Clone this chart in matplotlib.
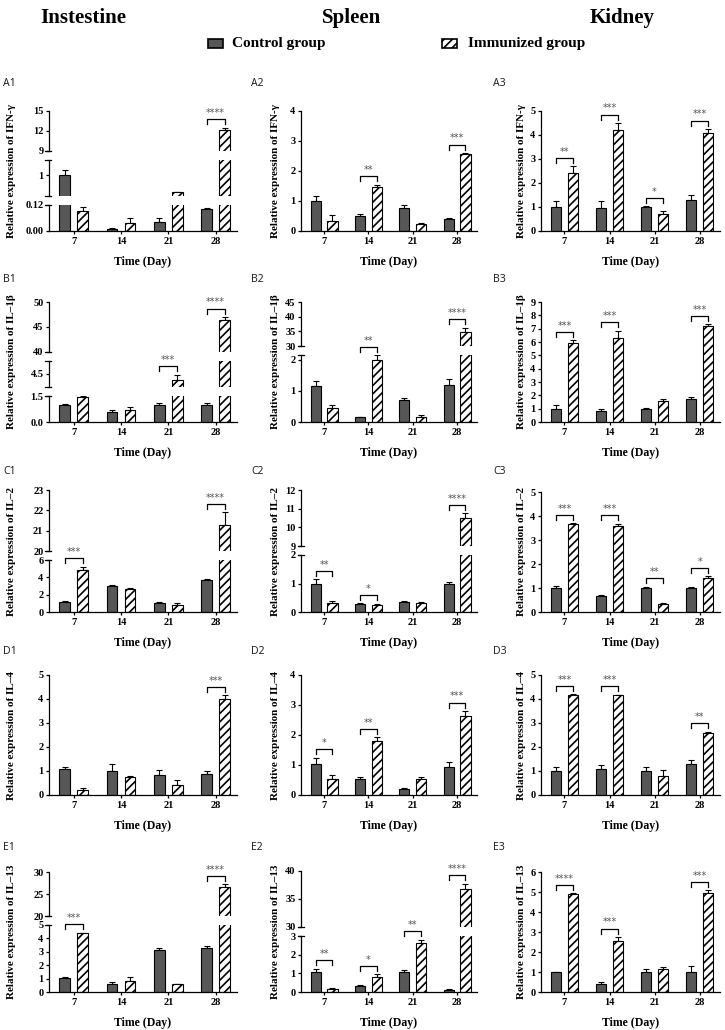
import numpy as np
import matplotlib
matplotlib.use('Agg')
import matplotlib.pyplot as plt
from matplotlib.patches import Rectangle
from matplotlib.transforms import blended_transform_factory

days = ['7', '14', '21', '28']
organs = ['Instestine', 'Spleen', 'Kidney']
genes = ['IFN-γ', 'IL–1β', 'IL–2', 'IL–4', 'IL–13']
row_letters = ['A', 'B', 'C', 'D', 'E']

# ---- values (mean and upper SD) ----
a1_ctrl = [1.00, 0.010, 0.042, 0.100]
a1_ctrl_sd = [0.23, 0.003, 0.020, 0.008]
a1_imm = [0.092, 0.037, 0.34, 12.2]
a1_imm_sd = [0.018, 0.021, 0.02, 0.3]
a1_sig = ['', '', '', '****']

a2_ctrl = [1.0, 0.5, 0.77, 0.4]
a2_ctrl_sd = [0.17, 0.07, 0.10, 0.05]
a2_imm = [0.35, 1.47, 0.25, 2.58]
a2_imm_sd = [0.2, 0.08, 0.03, 0.02]
a2_sig = ['', '**', '', '***']

a3_ctrl = [1.0, 0.95, 1.0, 1.28]
a3_ctrl_sd = [0.25, 0.3, 0.03, 0.2]
a3_imm = [2.42, 4.22, 0.7, 4.1]
a3_imm_sd = [0.28, 0.28, 0.12, 0.15]
a3_sig = ['**', '***', '*', '***']

b1_ctrl = [1.0, 0.6, 1.0, 1.0]
b1_ctrl_sd = [0.03, 0.1, 0.12, 0.08]
b1_imm = [1.47, 0.72, 4.02, 46.3]
b1_imm_sd = [0.02, 0.13, 0.42, 0.7]
b1_sig = ['', '', '***', '****']

b2_ctrl = [1.15, 0.15, 0.72, 1.2]
b2_ctrl_sd = [0.17, 0.02, 0.05, 0.17]
b2_imm = [0.45, 2.0, 0.17, 34.8]
b2_imm_sd = [0.08, 0.14, 0.04, 1.5]
b2_sig = ['', '**', '', '****']

b3_ctrl = [1.0, 0.8, 1.0, 1.7]
b3_ctrl_sd = [0.25, 0.15, 0.05, 0.2]
b3_imm = [5.95, 6.3, 1.55, 7.2]
b3_imm_sd = [0.2, 0.55, 0.15, 0.15]
b3_sig = ['***', '***', '', '***']

c1_ctrl = [1.2, 3.0, 1.0, 3.7]
c1_ctrl_sd = [0.05, 0.06, 0.1, 0.1]
c1_imm = [4.85, 2.7, 0.85, 21.3]
c1_imm_sd = [0.35, 0.05, 0.15, 0.6]
c1_sig = ['***', '', '', '****']

c2_ctrl = [1.0, 0.28, 0.35, 1.0]
c2_ctrl_sd = [0.15, 0.02, 0.03, 0.07]
c2_imm = [0.33, 0.25, 0.32, 10.5]
c2_imm_sd = [0.04, 0.02, 0.03, 0.25]
c2_sig = ['**', '*', '', '****']

c3_ctrl = [1.0, 0.65, 1.0, 1.0]
c3_ctrl_sd = [0.07, 0.07, 0.05, 0.05]
c3_imm = [3.65, 3.6, 0.35, 1.4]
c3_imm_sd = [0.05, 0.08, 0.03, 0.08]
c3_sig = ['***', '***', '**', '*']

d1_ctrl = [1.1, 1.0, 0.85, 0.88]
d1_ctrl_sd = [0.08, 0.3, 0.2, 0.1]
d1_imm = [0.2, 0.75, 0.42, 4.0]
d1_imm_sd = [0.1, 0.05, 0.2, 0.15]
d1_sig = ['', '', '', '***']

d2_ctrl = [1.05, 0.55, 0.2, 0.95]
d2_ctrl_sd = [0.2, 0.05, 0.02, 0.15]
d2_imm = [0.52, 1.8, 0.55, 2.65]
d2_imm_sd = [0.15, 0.12, 0.04, 0.15]
d2_sig = ['*', '**', '', '***']

d3_ctrl = [1.0, 1.1, 1.0, 1.3]
d3_ctrl_sd = [0.18, 0.15, 0.15, 0.15]
d3_imm = [4.15, 4.15, 0.8, 2.6]
d3_imm_sd = [0.05, 0.03, 0.25, 0.03]
d3_sig = ['***', '***', '', '**']

e1_ctrl = [1.05, 0.62, 3.1, 3.3]
e1_ctrl_sd = [0.07, 0.13, 0.15, 0.15]
e1_imm = [4.4, 0.85, 0.6, 26.5]
e1_imm_sd = [0.03, 0.25, 0.02, 0.7]
e1_sig = ['***', '', '', '****']

e2_ctrl = [1.08, 0.33, 1.08, 0.13]
e2_ctrl_sd = [0.17, 0.02, 0.12, 0.04]
e2_imm = [0.17, 0.83, 2.65, 36.7]
e2_imm_sd = [0.03, 0.12, 0.15, 1.0]
e2_sig = ['**', '*', '**', '****']

e3_ctrl = [1.0, 0.4, 1.0, 1.0]
e3_ctrl_sd = [0.02, 0.1, 0.15, 0.3]
e3_imm = [4.9, 2.55, 1.15, 4.95]
e3_imm_sd = [0.03, 0.2, 0.1, 0.13]
e3_sig = ['****', '***', '', '***']

# y-axis segments, bottom to top: (low, high, ticks, tick labels, height px)
def plain(top, step=1):
    t = list(range(0, top + 1, step))
    return [(0, top, t, [str(v) for v in t], 120)]

a1_axis = [(0, 0.12, [0, 0.12], ['0.00', '0.12'], 26),
           (0.2, 1.6, [1], ['1'], 36),
           (9, 15, [9, 12, 15], ['9', '12', '15'], 40)]
b1_axis = [(0, 1.5, [0, 1.5], ['0.0', '1.5'], 26),
           (3.5, 5.5, [4.5], ['4.5'], 26),
           (40, 50, [40, 45, 50], ['40', '45', '50'], 50)]
b2_axis = [(0, 2.15, [0, 1, 2], ['0', '1', '2'], 67),
           (30, 45, [30, 35, 40, 45], ['30', '35', '40', '45'], 44)]
c1_axis = [(0, 6, [0, 2, 4, 6], ['0', '2', '4', '6'], 52),
           (20, 23, [20, 21, 22, 23], ['20', '21', '22', '23'], 61)]
c2_axis = [(0, 2, [0, 1, 2], ['0', '1', '2'], 57),
           (9, 12, [9, 10, 11, 12], ['9', '10', '11', '12'], 56)]
e1_axis = [(0, 5, [0, 1, 2, 3, 4, 5], ['0', '1', '2', '3', '4', '5'], 67),
           (20, 30, [20, 25, 30], ['20', '25', '30'], 44)]
e2_axis = [(0, 3, [0, 1, 2, 3], ['0', '1', '2', '3'], 56),
           (30, 40, [30, 35, 40], ['30', '35', '40'], 56)]

panels = [
    [(a1_ctrl, a1_ctrl_sd, a1_imm, a1_imm_sd, a1_sig, a1_axis),
     (a2_ctrl, a2_ctrl_sd, a2_imm, a2_imm_sd, a2_sig, plain(4)),
     (a3_ctrl, a3_ctrl_sd, a3_imm, a3_imm_sd, a3_sig, plain(5))],
    [(b1_ctrl, b1_ctrl_sd, b1_imm, b1_imm_sd, b1_sig, b1_axis),
     (b2_ctrl, b2_ctrl_sd, b2_imm, b2_imm_sd, b2_sig, b2_axis),
     (b3_ctrl, b3_ctrl_sd, b3_imm, b3_imm_sd, b3_sig, plain(9))],
    [(c1_ctrl, c1_ctrl_sd, c1_imm, c1_imm_sd, c1_sig, c1_axis),
     (c2_ctrl, c2_ctrl_sd, c2_imm, c2_imm_sd, c2_sig, c2_axis),
     (c3_ctrl, c3_ctrl_sd, c3_imm, c3_imm_sd, c3_sig, plain(5))],
    [(d1_ctrl, d1_ctrl_sd, d1_imm, d1_imm_sd, d1_sig, plain(5)),
     (d2_ctrl, d2_ctrl_sd, d2_imm, d2_imm_sd, d2_sig, plain(4)),
     (d3_ctrl, d3_ctrl_sd, d3_imm, d3_imm_sd, d3_sig, plain(5))],
    [(e1_ctrl, e1_ctrl_sd, e1_imm, e1_imm_sd, e1_sig, e1_axis),
     (e2_ctrl, e2_ctrl_sd, e2_imm, e2_imm_sd, e2_sig, e2_axis),
     (e3_ctrl, e3_ctrl_sd, e3_imm, e3_imm_sd, e3_sig, plain(6))],
]

# ---- layout (pixels) ----
W, H = 725, 1030
GAP = 9
COL_X = [49, 301, 541]
COL_R = [237, 477, 720]
ROW_BOT = [231, 422, 612, 795, 992]
YLAB_X = [12, 275, 522]
PLAB_X = [3, 251, 493]
PLAB_Y = [84, 280, 472, 651, 847]

SERIF = 'Liberation Serif'
CTRL_COLOR = '#575757'
plt.rcParams['hatch.linewidth'] = 1.2
plt.rcParams['axes.linewidth'] = 0.9

fig = plt.figure(figsize=(W / 100, H / 100), dpi=100)


def px_axes(x0, y_top, w, h):
    return fig.add_axes([x0 / W, 1 - (y_top + h) / H, w / W, h / H])


def draw_panel(r, c, ctrl, ctrl_sd, imm, imm_sd, sig, segs):
    x0, w = COL_X[c], COL_R[c] - COL_X[c]
    y = ROW_BOT[r]
    idx = np.arange(len(days))
    off, bw = 0.19, 0.23
    axes = []
    for k, (lo, hi, ticks, labels, h) in enumerate(segs):
        ax = px_axes(x0, y - h, w, h)
        ax.patch.set_alpha(0)
        y -= h + GAP
        axes.append(ax)
        ax.bar(idx - off, ctrl, bw, color=CTRL_COLOR, edgecolor='black', linewidth=0.8, zorder=2)
        ax.bar(idx + off, imm, bw, color='white', edgecolor='black', hatch='////',
               linewidth=0.8, zorder=2)
        ax.errorbar(idx - off, ctrl, yerr=[np.zeros(4), ctrl_sd], fmt='none', ecolor='black',
                    elinewidth=0.8, capsize=2.2, capthick=0.8, zorder=1)
        ax.errorbar(idx + off, imm, yerr=[np.zeros(4), imm_sd], fmt='none', ecolor='black',
                    elinewidth=0.8, capsize=2.2, capthick=0.8, zorder=1)
        ax.set_ylim(lo, hi)
        ax.set_xlim(-0.52, 3.45)
        ax.set_yticks(ticks)
        ax.set_yticklabels(labels, fontfamily=SERIF, fontweight='bold', fontsize=7.5)
        ax.tick_params(axis='y', length=2.5, width=0.9, pad=1.5)
        for s in ['top', 'right']:
            ax.spines[s].set_visible(False)
        if k == 0:
            ax.set_xticks(idx)
            ax.set_xticklabels(days, fontfamily=SERIF, fontweight='bold', fontsize=7.5)
            ax.tick_params(axis='x', length=2.5, width=0.9, pad=2)
        else:
            ax.spines['bottom'].set_visible(False)
            ax.set_xticks([])
        # break marks at segment ends next to a gap
        ends = []
        if k > 0:
            ends.append(0)
        if k < len(segs) - 1:
            ends.append(1)
        for e in ends:
            ax.plot([-3.5 / w, 2.5 / w], [e, e], transform=ax.transAxes, color='black',
                    lw=0.9, clip_on=False)

    # significance brackets
    for i, s in enumerate(sig):
        if not s:
            continue
        top = max(ctrl[i] + ctrl_sd[i], imm[i] + imm_sd[i])
        k = 0
        for j, seg in enumerate(segs):
            if top >= seg[0]:
                k = j
        lo, hi, _, _, h = segs[k]
        frac = (min(top, hi) - lo) / (hi - lo)
        ax = axes[k]
        yb = frac + 8.5 / h
        leg = 5.0 / h
        tr = blended_transform_factory(ax.transData, ax.transAxes)
        ax.plot([i - off, i - off, i + off, i + off], [yb - leg, yb, yb, yb - leg],
                transform=tr, color='black', lw=0.9, clip_on=False, zorder=5)
        ax.text(i, yb + 1.0 / h, s, transform=tr, ha='center', va='bottom',
                fontsize=7, color='#555555', clip_on=False, zorder=5)

    # axis labels and panel tag
    total_top = y + GAP
    ymid = (ROW_BOT[r] + total_top) / 2
    fig.text(YLAB_X[c] / W, 1 - ymid / H, 'Relative expression of ' + genes[r],
             rotation=90, ha='center', va='center', fontfamily=SERIF,
             fontweight='bold', fontsize=8)
    fig.text((x0 + w / 2) / W, 1 - (ROW_BOT[r] + 31) / H, 'Time (Day)', ha='center',
             va='center', fontfamily=SERIF, fontweight='bold', fontsize=8.5)
    fig.text(PLAB_X[c] / W, 1 - PLAB_Y[r] / H, f'{row_letters[r]}{c + 1}', ha='left',
             va='center', fontfamily='Noto Sans', fontsize=7.5, color='#222222')


for r in range(5):
    for c in range(3):
        draw_panel(r, c, *panels[r][c])

# column titles
for x, name in zip([83, 352, 622], organs):
    fig.text(x / W, 1 - 18 / H, name, ha='center', va='center', fontfamily=SERIF,
             fontweight='bold', fontsize=15)

# legend
fig.patches.append(Rectangle((208 / W, 1 - 48 / H), 15 / W, 9 / H, transform=fig.transFigure,
                             facecolor=CTRL_COLOR, edgecolor='black', linewidth=1.2))
fig.patches.append(Rectangle((442 / W, 1 - 48 / H), 15 / W, 9 / H, transform=fig.transFigure,
                             facecolor='white', edgecolor='black', hatch='////', linewidth=1.2))
fig.text(232 / W, 1 - 43 / H, 'Control group', ha='left', va='center', fontfamily=SERIF,
         fontweight='bold', fontsize=11)
fig.text(468 / W, 1 - 43 / H, 'Immunized group', ha='left', va='center', fontfamily=SERIF,
         fontweight='bold', fontsize=11)

fig.savefig('out.png', dpi=100)
